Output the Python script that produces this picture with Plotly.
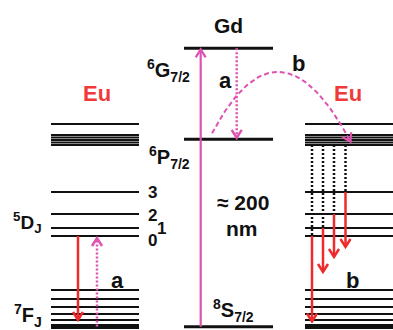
import numpy as np
import plotly.graph_objects as go

# ---- Energy levels (diagram units, higher = more energy) ----
eu_7F = [3.5, 10, 16, 23, 31, 40]          # 7F_J manifold (ground thick)
eu_5D = [94, 102, 116, 138]                # 5D_0..5D_3
eu_high = [206]                            # upper single level
eu_band = [195, 192.5, 190, 187.5, 185]    # dense upper band
gd_levels = [3.3, 190.7, 281.7]            # 8S7/2, 6P7/2, 6G7/2
d_labels = ["0", "1", "2", "3"]

# block extents
eu_left_x = [51, 139]
gd_x = [184, 273]
eu_right_x = [305, 396]

BLACK = "#111111"
PINK = "#de52b0"
RED = "#ee2a2a"
FONT = "Liberation Sans, Arial, sans-serif"

fig = go.Figure()


def hline(x, e, w, color=BLACK):
    fig.add_trace(go.Scatter(x=x, y=[e, e], mode="lines",
                             line=dict(color=color, width=w),
                             hoverinfo="skip", showlegend=False))


def chevron(tipx, tipe, dx, de, color, w, hl=8, hw=5):
    n = np.hypot(dx, de)
    ux, ue = dx / n, de / n
    px, pe = -ue, ux
    bx, be = tipx - ux * hl, tipe - ue * hl
    fig.add_trace(go.Scatter(
        x=[bx + px * hw, tipx, bx - px * hw],
        y=[be + pe * hw, tipe, be - pe * hw],
        mode="lines", line=dict(color=color, width=w),
        hoverinfo="skip", showlegend=False))


def arrow(x0, e0, x1, e1, color, w=2.2, dash="solid", head=True):
    fig.add_trace(go.Scatter(x=[x0, x1], y=[e0, e1], mode="lines",
                             line=dict(color=color, width=w, dash=dash),
                             hoverinfo="skip", showlegend=False))
    if head:
        chevron(x1, e1, x1 - x0, e1 - e0, color, w)


# ---- levels ----
for blk in (eu_left_x, eu_right_x):
    hline(blk, eu_7F[0], 5)
    for e in eu_7F[1:]:
        hline(blk, e, 2)
    for e in eu_5D:
        hline(blk, e, 2)
    for e in eu_high:
        hline(blk, e, 2)
    for e in eu_band:
        hline(blk, e, 2)

for e in gd_levels:
    hline(gd_x, e, 3)

# ---- arrows ----
# Gd excitation (~200 nm)
arrow(200.7, gd_levels[0], 200.7, gd_levels[2] - 1, PINK, 2.2)
# Gd relaxation a
arrow(236.7, gd_levels[2], 236.7, gd_levels[1] + 1.5, PINK, 2.5, dash="2px,2px")
# Left Eu: excitation a (dotted) and emission (red)
arrow(97, eu_7F[0], 97, eu_5D[0] - 2, PINK, 2.5, dash="2px,2px")
arrow(78, eu_5D[0], 78, eu_7F[1], RED, 2.5)

# Right Eu: nonradiative (dotted black) then emissions (red)
right_x = [312, 323, 334, 345.5]
emit_end = [eu_7F[0] + 5, 58, 73, 83]
for xx, e5, ee in zip(right_x, eu_5D, emit_end):
    arrow(xx, eu_band[-1], xx, e5, BLACK, 2.5, dash="2px,2px", head=False)
    arrow(xx, e5, xx, ee, RED, 2.5)

# Curved energy transfer b (Gd -> Eu)
p0 = np.array([212.0, 196.7])
c = np.array([279.0, 323.5])
p2 = np.array([350.5, 188.3])
t = np.linspace(0, 1, 60)
bz = ((1 - t)[:, None] ** 2) * p0 + (2 * t * (1 - t))[:, None] * c + (t[:, None] ** 2) * p2
fig.add_trace(go.Scatter(x=bz[:, 0], y=bz[:, 1], mode="lines",
                         line=dict(color=PINK, width=2, dash="5px,3px"),
                         hoverinfo="skip", showlegend=False))
chevron(p2[0], p2[1], p2[0] - c[0], p2[1] - c[1], PINK, 2.2)

# ---- text ----
def label(x, e, text, size, color=BLACK, xanchor="center"):
    fig.add_annotation(x=x, y=e, text=text, showarrow=False,
                       xanchor=xanchor, yanchor="middle",
                       font=dict(family=FONT, size=size, color=color))


label(228, 305, "<b>Gd</b>", 21)
label(97, 237, "<b>Eu</b>", 22, color="#f03a3a")
label(348, 237, "<b>Eu</b>", 22, color="#f03a3a")
label(192, 260, "<b><sup>6</sup>G<sub>7/2</sub></b>", 20, xanchor="right")
label(192, 173, "<b><sup>6</sup>P<sub>7/2</sub></b>", 20, xanchor="right")
label(44, 108, "<b><sup>5</sup>D<sub>J</sub></b>", 19, xanchor="right")
label(44, 15, "<b><sup>7</sup>F<sub>J</sub></b>", 20, xanchor="right")
for txt, xx, e in zip(d_labels, [152, 161, 152, 152], [90, 102, 115, 138]):
    label(xx, e, "<b>%s</b>" % txt, 17)
label(117, 50, "<b>a</b>", 22)
label(225, 250, "<b>a</b>", 22)
label(298, 267, "<b>b</b>", 22)
label(352, 50, "<b>b</b>", 22)
label(243, 128, "<b>\u2248 200</b>", 21)
label(242, 102, "<b>nm</b>", 21)
label(233, 20, "<b><sup>8</sup>S<sub>7/2</sub></b>", 20)

fig.update_layout(
    width=393, height=330,
    margin=dict(l=0, r=0, t=0, b=0),
    paper_bgcolor="white", plot_bgcolor="white",
    xaxis=dict(range=[0, 393], visible=False, fixedrange=True),
    yaxis=dict(range=[0, 330], visible=False, fixedrange=True),
    showlegend=False,
)

fig.write_html("out.html", config={"displayModeBar": False})

# remove the browser's default body margin so the figure fills the window
with open("out.html", "r", encoding="utf-8") as f:
    html = f.read()
html = html.replace("<head>", "<head><style>html,body{margin:0;padding:0;overflow:hidden;}</style>", 1)
with open("out.html", "w", encoding="utf-8") as f:
    f.write(html)
